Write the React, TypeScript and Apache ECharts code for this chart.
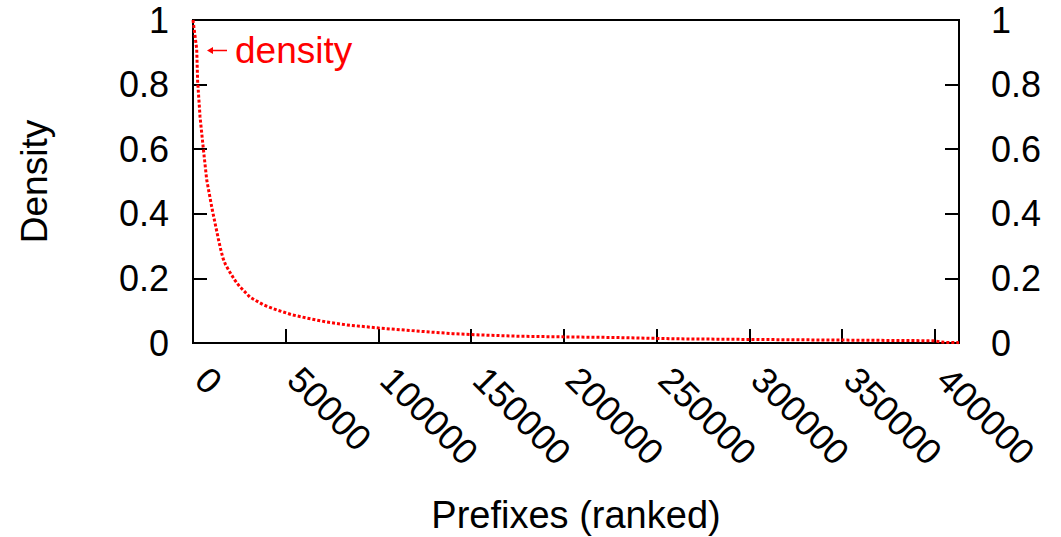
import React, { useEffect, useRef } from 'react';
import * as echarts from 'echarts';

const seriesName = 'density';
const xTitle = 'Prefixes (ranked)';
const yTitle = 'Density';
const ranks = [0, 1000, 2000, 2500, 3800, 4700, 5600, 7400, 10400, 13600, 15000, 16200, 17500, 20000, 22500, 25000, 30700, 38000, 45300, 53000, 61400, 72000, 83000, 100800, 114000, 127700, 140000, 154700, 175000, 199400, 228000, 260000, 300000, 350000, 399000, 405000, 413000];
const density = [1.0, 0.955, 0.91, 0.81, 0.7, 0.65, 0.6, 0.505, 0.412, 0.324, 0.288, 0.262, 0.243, 0.218, 0.195, 0.176, 0.142, 0.118, 0.102, 0.088, 0.077, 0.065, 0.056, 0.046, 0.04, 0.034, 0.029, 0.025, 0.021, 0.019, 0.017, 0.013, 0.011, 0.009, 0.007, 0.002, 0.001];
const xMax = 413000;
const xStep = 50000;

const FONT = '"Liberation Sans", Arial, Helvetica, sans-serif';

export default function App() {
  const ref = useRef<HTMLDivElement>(null);
  useEffect(() => {
    if (!ref.current) return;
    const chart = echarts.init(ref.current, undefined, { renderer: 'svg' });
    const data = ranks.map((r, i) => [r, density[i]]);
    const yAxisBase = {
      type: 'value',
      min: 0,
      max: 1,
      interval: 0.2,
      splitLine: { show: false },
      axisLine: { show: true, lineStyle: { color: '#000', width: 2 } },
      axisTick: { show: true, inside: true, length: 14, lineStyle: { color: '#000', width: 2 } },
    };
    chart.setOption({
      animation: false,
      backgroundColor: '#fff',
      textStyle: { fontFamily: FONT },
      grid: {
        left: 193,
        right: 102,
        top: 20,
        bottom: 194,
        show: true,
        borderColor: '#000',
        borderWidth: 2,
        backgroundColor: 'transparent',
      },
      legend: {
        data: [seriesName],
        left: 202,
        top: 27,
        selectedMode: false,
        itemWidth: 20,
        itemHeight: 7,
        icon: 'path://M0,3.5L6,0L6,2.7L20,2.7L20,4.3L6,4.3L6,7Z',
        itemStyle: { color: '#ff0000' },
        textStyle: { fontSize: 37, color: '#ff0000', fontFamily: FONT, padding: [0, 0, 0, 3] },
      },
      xAxis: {
        type: 'value',
        min: 0,
        max: xMax,
        interval: xStep,
        splitLine: { show: false },
        axisLine: { show: true, onZero: false, lineStyle: { color: '#000', width: 2 } },
        axisTick: { show: true, inside: true, length: 14, lineStyle: { color: '#000', width: 2 } },
        axisLabel: {
          rotate: -45,
          margin: 22,
          padding: [0, 0, 0, 12],
          fontSize: 36,
          color: '#000',
          fontFamily: FONT,
          showMaxLabel: false,
          formatter: (v: number) => String(v),
        },
      },
      yAxis: [
        {
          ...yAxisBase,
          position: 'left',
          axisLabel: { margin: 24, fontSize: 36, color: '#000', fontFamily: FONT },
        },
        {
          ...yAxisBase,
          position: 'right',
          axisLabel: { margin: 32, fontSize: 36, color: '#000', fontFamily: FONT },
        },
      ],
      graphic: [
        {
          type: 'text',
          x: 34.5,
          y: 181.5,
          rotation: Math.PI / 2,
          style: {
            text: yTitle,
            fontSize: 37,
            fontFamily: FONT,
            fill: '#000',
            textAlign: 'center',
            textVerticalAlign: 'middle',
          },
        },
        {
          type: 'text',
          x: 576,
          y: 514.5,
          style: {
            text: xTitle,
            fontSize: 38,
            fontFamily: FONT,
            fill: '#000',
            textAlign: 'center',
            textVerticalAlign: 'middle',
          },
        },
      ],
      series: [
        {
          name: seriesName,
          type: 'line',
          yAxisIndex: 0,
          data,
          symbol: 'none',
          smooth: false,
          clip: true,
          lineStyle: { color: '#ff0000', width: 3, type: [3, 2] },
          itemStyle: { color: '#ff0000' },
        },
      ],
    });
    return () => chart.dispose();
  }, []);
  return (
    <div
      ref={ref}
      style={{ position: 'fixed', left: 0, top: 0, width: 1061, height: 537, background: '#fff' }}
    />
  );
}
